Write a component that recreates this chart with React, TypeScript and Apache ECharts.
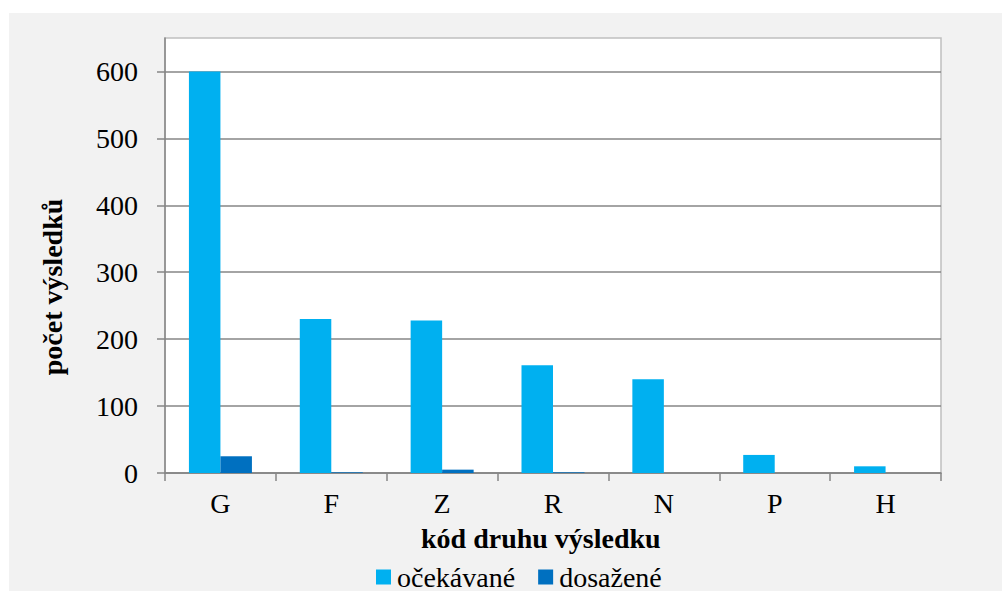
import React, { useEffect, useRef } from "react";
import * as echarts from "echarts";

const categories = ["G", "F", "Z", "R", "N", "P", "H"];
const expected = [600, 230, 228, 161, 140, 27, 10];
const achieved = [25, 1, 5, 1, 0, 0, 0];
const seriesNames = ["očekávané", "dosažené"];
const xTitle = "kód druhu výsledku";
const yTitle = "počet výsledků";

const FONT = "'Liberation Serif', 'Times New Roman', serif";

export default function App() {
  const ref = useRef<HTMLDivElement>(null);
  useEffect(() => {
    if (!ref.current) return;
    const chart = echarts.init(ref.current, undefined, { renderer: "svg" });
    chart.setOption({
      animation: false,
      backgroundColor: "#f2f2f2",
      textStyle: { fontFamily: FONT },
      grid: {
        left: 156,
        top: 25,
        right: 61,
        bottom: 118,
        show: true,
        backgroundColor: "#ffffff",
        borderColor: "#c0c0c0",
        borderWidth: 1.5,
      },
      legend: {
        left: 362,
        top: 545,
        icon: "rect",
        itemWidth: 15,
        itemHeight: 15,
        itemGap: 23,
        textStyle: { fontFamily: FONT, fontSize: 28, color: "#000", padding: [0, 0, 0, 1] },
        data: seriesNames,
      },
      xAxis: {
        type: "category",
        data: categories,
        boundaryGap: true,
        axisLine: { show: true, lineStyle: { color: "#868686", width: 1.5 } },
        axisTick: { show: true, length: 8, alignWithLabel: false, lineStyle: { color: "#868686", width: 1.5 } },
        axisLabel: { fontFamily: FONT, fontSize: 28, color: "#000", margin: 16 },
        splitLine: { show: false },
      },
      yAxis: {
        type: "value",
        min: 0,
        max: 650,
        interval: 100,
        axisLine: { show: true, lineStyle: { color: "#868686", width: 1.5 } },
        axisTick: { show: true, length: 8, lineStyle: { color: "#868686", width: 1.5 } },
        axisLabel: { fontFamily: FONT, fontSize: 28, color: "#000", margin: 27, showMaxLabel: false },
        splitLine: { show: true, showMaxLine: false, lineStyle: { color: "#868686", width: 1.5 } },
      },
      graphic: [
        {
          type: "text",
          left: 534 - 122,
          top: 527 - 16,
          style: { text: xTitle, font: `bold 28px ${FONT}`, fill: "#000" },
        },
        {
          type: "text",
          x: 43,
          y: 274,
          rotation: Math.PI / 2,
          style: {
            text: yTitle,
            font: `bold 28px ${FONT}`,
            fill: "#000",
            align: "center",
            verticalAlign: "middle",
          },
        },
      ],
      series: [
        {
          name: seriesNames[0],
          type: "bar",
          data: expected,
          barWidth: 31.5,
          barGap: "0%",
          itemStyle: { color: "#00b0f0" },
        },
        {
          name: seriesNames[1],
          type: "bar",
          data: achieved,
          barWidth: 31.5,
          barGap: "0%",
          itemStyle: { color: "#0070c0" },
        },
      ],
    });
    return () => chart.dispose();
  }, []);
  return (
    <div style={{ position: "absolute", left: 0, top: 0, width: 1002, height: 591, background: "#ffffff" }}>
      <div ref={ref} style={{ position: "absolute", left: 9, top: 13, width: 993, height: 578 }} />
    </div>
  );
}
